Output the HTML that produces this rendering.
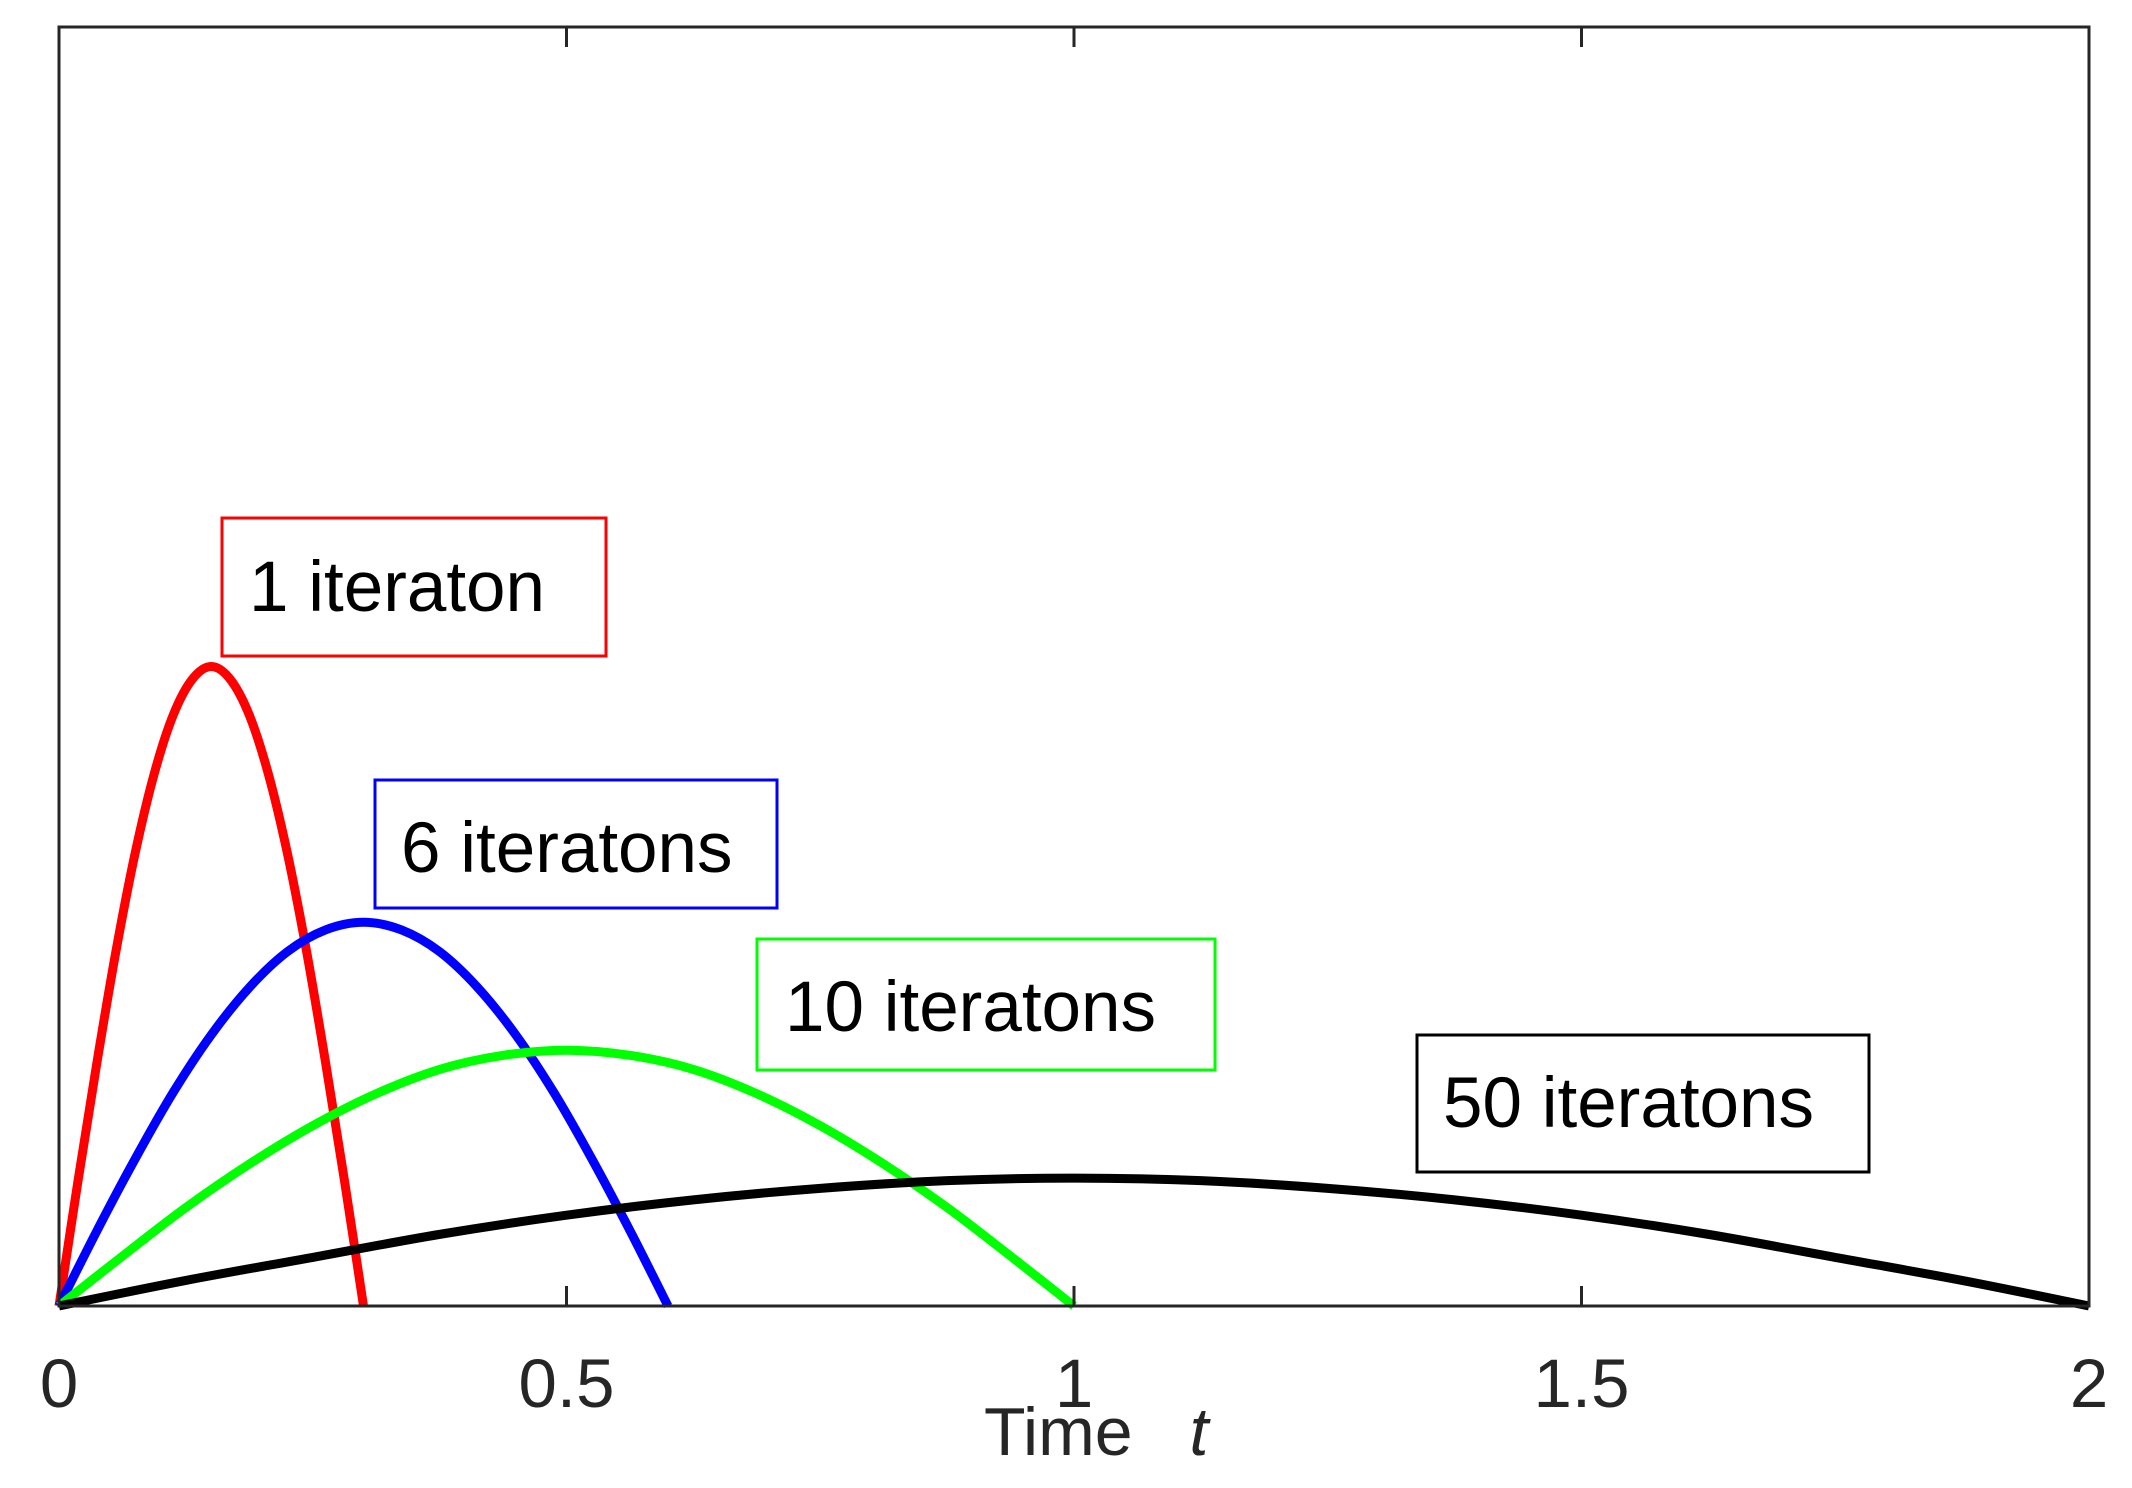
<!DOCTYPE html>
<html><head><meta charset="utf-8"><style>
html,body{margin:0;padding:0;background:#fff;}
svg{display:block;}
text{font-family:"Liberation Sans",Arial,sans-serif;}
</style></head><body>
<svg id="chart" width="2132" height="1488" viewBox="0 0 2132 1488" xmlns="http://www.w3.org/2000/svg">
<rect x="0" y="0" width="2132" height="1488" fill="#fff"/>
<g id="curves"></g>
<rect x="59" y="27" width="2030" height="1279" fill="none" stroke="#262626" stroke-width="3"/>
<g id="ticks"></g>
<text x="984" y="1455" font-size="68" fill="#262626">Time <tspan dx="38" font-style="italic">t</tspan></text>
<g id="labels"></g>
</svg>
<script>
const xTicks = [0, 0.5, 1, 1.5, 2];
const xTickLabels = ["0", "0.5", "1", "1.5", "2"];
const seriesNames = ["1 iteraton", "6 iteratons", "10 iteratons", "50 iteratons"];
const seriesColors = ["#ff0000", "#0000ff", "#00ff00", "#000000"];
const redT = [0,0.01875,0.0375,0.05625,0.075,0.09375,0.1125,0.13125,0.15,0.16875,0.1875,0.20625,0.225,0.24375,0.2625,0.28125,0.3];
const redY = [0,0.098,0.191,0.278,0.354,0.416,0.462,0.490,0.5,0.490,0.462,0.416,0.354,0.278,0.191,0.098,0];
const blueT = [0,0.0375,0.075,0.1125,0.15,0.1875,0.225,0.2625,0.3,0.3375,0.375,0.4125,0.45,0.4875,0.525,0.5625,0.6];
const blueY = [0,0.059,0.115,0.167,0.212,0.249,0.277,0.294,0.3,0.294,0.277,0.249,0.212,0.167,0.115,0.059,0];
const greenT = [0,0.0625,0.125,0.1875,0.25,0.3125,0.375,0.4375,0.5,0.5625,0.625,0.6875,0.75,0.8125,0.875,0.9375,1];
const greenY = [0,0.039,0.077,0.111,0.141,0.166,0.185,0.196,0.2,0.196,0.185,0.166,0.141,0.111,0.077,0.039,0];
const blackT = [0,0.125,0.25,0.375,0.5,0.625,0.75,0.875,1,1.125,1.25,1.375,1.5,1.625,1.75,1.875,2];
const blackY = [0,0.020,0.038,0.056,0.071,0.083,0.092,0.098,0.1,0.098,0.092,0.083,0.071,0.056,0.038,0.020,0];

const NS = "http://www.w3.org/2000/svg";
const X0 = 59, X1 = 2089, Y0 = 1306, Y1 = 27;
function xs(t){ return X0 + (t / 2) * (X1 - X0); }
function ys(v){ return Y0 - v * (Y0 - Y1); }

function smoothPath(ts, vs){
  const p = ts.map((t,i)=>[xs(t), ys(vs[i])]);
  let d = "M" + p[0][0] + "," + p[0][1];
  for (let i = 0; i < p.length - 1; i++){
    const a = p[Math.max(i-1,0)], b = p[i], c = p[i+1], e = p[Math.min(i+2,p.length-1)];
    const c1 = [b[0] + (c[0]-a[0])/6, b[1] + (c[1]-a[1])/6];
    const c2 = [c[0] - (e[0]-b[0])/6, c[1] - (e[1]-b[1])/6];
    d += " C" + c1.join(",") + " " + c2.join(",") + " " + c.join(",");
  }
  return d;
}

const allT = [redT, blueT, greenT, blackT];
const allY = [redY, blueY, greenY, blackY];
const curveNames = ["curve-1-iteration", "curve-6-iterations", "curve-10-iterations", "curve-50-iterations"];
const cg = document.getElementById("curves");
for (let s = 0; s < 4; s++){
  const path = document.createElementNS(NS, "path");
  path.setAttribute("d", smoothPath(allT[s], allY[s]));
  path.setAttribute("fill", "none");
  path.setAttribute("stroke", seriesColors[s]);
  path.setAttribute("stroke-width", "9");
  path.setAttribute("stroke-linejoin", "round");
  
  
  cg.appendChild(path);
}

const tg = document.getElementById("ticks");
xTicks.forEach((t, i) => {
  const x = xs(t);
  if (i > 0 && i < xTicks.length - 1){
    const tb = document.createElementNS(NS, "line");
    tb.setAttribute("x1", x); tb.setAttribute("x2", x);
    tb.setAttribute("y1", Y0); tb.setAttribute("y2", Y0 - 20);
    tb.setAttribute("stroke", "#262626"); tb.setAttribute("stroke-width", "3");
    
    
    tg.appendChild(tb);
    const tt = document.createElementNS(NS, "line");
    tt.setAttribute("x1", x); tt.setAttribute("x2", x);
    tt.setAttribute("y1", Y1); tt.setAttribute("y2", Y1 + 20);
    tt.setAttribute("stroke", "#262626"); tt.setAttribute("stroke-width", "3");
    
    
    tg.appendChild(tt);
  }
  const lab = document.createElementNS(NS, "text");
  lab.setAttribute("x", x); lab.setAttribute("y", 1407);
  lab.setAttribute("text-anchor", "middle");
  lab.setAttribute("font-size", "69");
  lab.setAttribute("fill", "#262626");
  lab.textContent = xTickLabels[i];
  
  
  tg.appendChild(lab);
});

const boxes = [
  {x:222, y:518, w:384, h:138, tx:249, ty:611},
  {x:375, y:780, w:402, h:128, tx:401, ty:872},
  {x:757, y:939, w:458, h:131, tx:785, ty:1031},
  {x:1417, y:1035, w:452, h:137, tx:1443, ty:1127}
];
const boxNames = ["label-1-iteration", "label-6-iterations", "label-10-iterations", "label-50-iterations"];
const lg = document.getElementById("labels");
boxes.forEach((b, i) => {
  const g = document.createElementNS(NS, "g");
  
  
  const r = document.createElementNS(NS, "rect");
  r.setAttribute("x", b.x); r.setAttribute("y", b.y);
  r.setAttribute("width", b.w); r.setAttribute("height", b.h);
  r.setAttribute("fill", "#fff"); r.setAttribute("stroke", seriesColors[i]);
  r.setAttribute("stroke-width", "3");
  
  
  g.appendChild(r);
  const t = document.createElementNS(NS, "text");
  t.setAttribute("x", b.tx); t.setAttribute("y", b.ty);
  t.setAttribute("font-size", "71"); t.setAttribute("fill", "#000");
  t.textContent = seriesNames[i];
  
  
  g.appendChild(t);
  lg.appendChild(g);
});
</script>
</body></html>
